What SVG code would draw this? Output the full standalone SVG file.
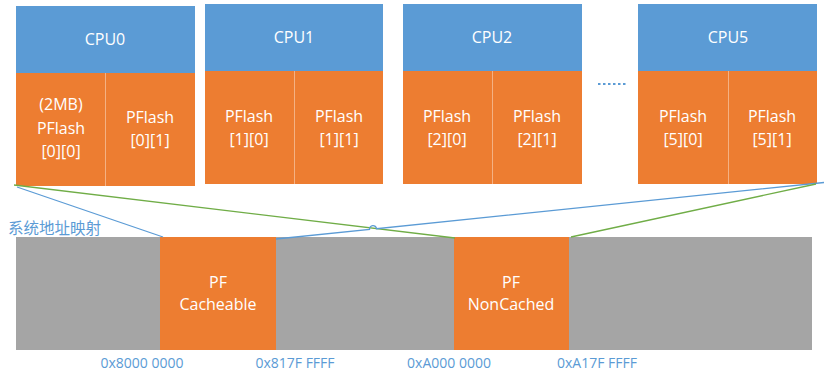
<svg xmlns="http://www.w3.org/2000/svg" width="831" height="384" viewBox="0 0 831 384">
<style>
.hd{fill:#5B9BD5}
.fl{fill:#ED7D31}
.dv{stroke:#F4B183;stroke-width:1}
.t{font-family:"Open Sans","Liberation Sans",sans-serif;font-size:16px;fill:#fff;text-anchor:middle}
.a{font-family:"Open Sans","Liberation Sans",sans-serif;font-size:14px;fill:#5B9BD5;text-anchor:middle}
.bl{stroke:#5B9BD5;stroke-width:1.3;fill:none}
.gr{stroke:#70AD47;stroke-width:1.3;fill:none}
</style>
<rect width="831" height="384" fill="#fff"/>
<g id="cpu0">
<rect class="hd" x="16" y="6" width="179" height="67"/>
<rect class="fl" x="16" y="73" width="179" height="113"/>
<line class="dv" x1="105.5" y1="73" x2="105.5" y2="186"/>
<text class="t" x="105" y="45">CPU0</text>
<text class="t" x="61" y="110">(2MB)</text>
<text class="t" x="61" y="134">PFlash</text>
<text class="t" x="61" y="157">[0][0]</text>
<text class="t" x="150" y="123">PFlash</text>
<text class="t" x="150" y="146">[0][1]</text>
</g>
<g id="cpu1">
<rect class="hd" x="205" y="4" width="178" height="67"/>
<rect class="fl" x="205" y="71" width="178" height="113"/>
<line class="dv" x1="294.5" y1="71" x2="294.5" y2="184"/>
<text class="t" x="294" y="43">CPU1</text>
<text class="t" x="249" y="122">PFlash</text>
<text class="t" x="249" y="145">[1][0]</text>
<text class="t" x="339" y="122">PFlash</text>
<text class="t" x="339" y="145">[1][1]</text>
</g>
<g id="cpu2">
<rect class="hd" x="403" y="4" width="179" height="67"/>
<rect class="fl" x="403" y="71" width="179" height="113"/>
<line class="dv" x1="492.5" y1="71" x2="492.5" y2="184"/>
<text class="t" x="492" y="43">CPU2</text>
<text class="t" x="447" y="122">PFlash</text>
<text class="t" x="447" y="145">[2][0]</text>
<text class="t" x="537" y="122">PFlash</text>
<text class="t" x="537" y="145">[2][1]</text>
</g>
<g id="dots">
<line x1="598" y1="84" x2="628" y2="84" stroke="#5B9BD5" stroke-width="2" stroke-dasharray="2.5 2.5"/>
</g>
<g id="cpu5">
<rect class="hd" x="638" y="4" width="179" height="67"/>
<rect class="fl" x="638" y="71" width="179" height="113"/>
<line class="dv" x1="728.5" y1="71" x2="728.5" y2="184"/>
<text class="t" x="728" y="43">CPU5</text>
<text class="t" x="683" y="122">PFlash</text>
<text class="t" x="683" y="145">[5][0]</text>
<text class="t" x="772" y="122">PFlash</text>
<text class="t" x="772" y="145">[5][1]</text>
</g>
<g id="memmap">
<rect x="16" y="237" width="796" height="113" fill="#A5A5A5"/>
<text x="8" y="234" font-family="'Noto Sans CJK SC',sans-serif" font-size="15.5" fill="#5B9BD5">系统地址映射</text>
</g>
<g id="pf-cacheable">
<rect class="fl" x="160" y="237" width="116" height="113"/>
<text class="t" x="218" y="288">PF</text>
<text class="t" x="218" y="310">Cacheable</text>
</g>
<g id="pf-noncached">
<rect class="fl" x="454" y="237" width="115" height="113"/>
<text class="t" x="511" y="288">PF</text>
<text class="t" x="511" y="310">NonCached</text>
</g>
<g id="connectors">
<line class="bl" x1="17" y1="187" x2="163" y2="237"/>
<line class="gr" x1="14" y1="185" x2="455" y2="238"/>
<path class="bl" d="M276 239 L369.5 229.4 A3.5 3.5 0 0 1 376.5 228.7 L824 182.5"/>
<line class="gr" x1="816" y1="184" x2="571" y2="237"/>
</g>
<g id="addresses">
<text class="a" x="142" y="368">0x8000 0000</text>
<text class="a" x="295" y="368">0x817F FFFF</text>
<text class="a" x="449" y="368">0xA000 0000</text>
<text class="a" x="597" y="368">0xA17F FFFF</text>
</g>
</svg>
